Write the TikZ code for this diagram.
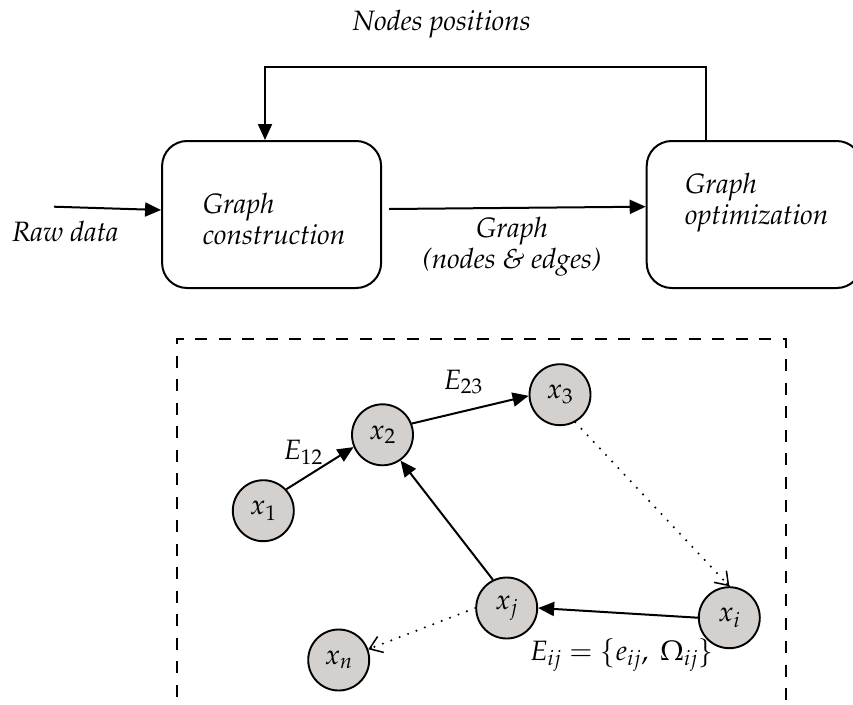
\documentclass[tikz,border=0pt]{standalone}
\usepackage[T1]{fontenc}
\usepackage{mathpazo}
\usetikzlibrary{arrows.meta,calc}
\definecolor{nodegray}{RGB}{212,208,206}
\begin{document}
\begin{tikzpicture}[x=1pt,y=-1pt,
  every node/.style={font=\fontsize{28}{31}\selectfont},
  lbl/.style={font=\fontsize{28}{31}\selectfont\itshape},
  box/.style={draw,rounded corners=25pt,line width=2pt,inner sep=0pt},
  vert/.style={circle,draw,fill=nodegray,line width=1.9pt,minimum size=61pt,inner sep=0pt},
  arr/.style={line width=2pt,-{Triangle[length=16pt,width=14pt]}},
  dotline/.style={line width=2.3pt,line cap=round,dash pattern=on 0pt off 9pt},
  barb/.style={line width=1.5pt,-{Straight Barb[length=12pt,width=17pt,line width=1.5pt]}},
  frame/.style={line width=2pt,dash pattern=on 12pt off 11.5pt}]
\useasboundingbox (0,0) rectangle (853,704);

% top flow
\node[box,minimum width=219pt,minimum height=147pt] (box1) at (271.6,214.5) {};
\node[box,minimum width=215pt,minimum height=147pt] (box2) at (754.2,214.5) {};
\node[lbl,align=left,anchor=west] (t1) at (199.3,219) {Graph\\construction};
\node[lbl,align=left,anchor=west] (t2) at (681.7,203) {Graph\\optimization};
\node[lbl,anchor=base] (raw) at (65.3,241.7) {Raw data};
\node[lbl,anchor=base] (np) at (441.7,30) {Nodes positions};
\node[lbl,align=center] (glabel) at (512,247) {Graph\\(nodes \& edges)};

\coordinate (rawS) at (54,206.7);
\coordinate (fbR) at (706,66.5);
\coordinate (fbL) at (265,66.5);
\draw[arr] (rawS) -- ([yshift=4.5pt]box1.west);
\draw[arr] ([xshift=7pt,yshift=5.5pt]box1.east) -- ([yshift=7.8pt]box2.west);
\draw[arr] (box2.north -| fbR) -- (fbR) -- (fbL) -- (box1.north -| fbL);

% graph frame
\draw[frame] (177,720) -- (177,338.5) -- (785.5,338.5) -- (785.5,720);

\node[vert] (x1) at (263.3,510.7) {$x_1$};
\node[vert] (x2) at (382.5,434.8) {$x_2$};
\node[vert] (x3) at (560,394.7) {$x_3$};
\node[vert] (xj) at (506.7,608) {$x_j$};
\node[vert] (xi) at (729.3,617.7) {$x_i$};
\node[vert] (xn) at (338.7,660) {$x_n$};

\draw[arr] (x1.43) -- (x2.-157);
\draw[arr] (x2.21) -- (x3.182);
\draw[arr] (xj.116) -- (x2.-55);
\draw[arr] (xi.west) -- (xj.east);
\draw[dotline] (x3.-61) -- (xi.north);
\draw[barb] ($(xi.north)!4pt!(x3.-61)$) -- (xi.north);
\draw[dotline] (xj.west) -- (xn.20);
\draw[barb] ($(xn.20)!4pt!(xj.west)$) -- (xn.20);

\node (e12) at (303,452) {$E_{12}$};
\node (e23) at (463,382) {$E_{23}$};
\node (eij) at (621.7,655) {$E_{ij}=\{e_{ij},\ \Omega_{ij}\}$};
\end{tikzpicture}
\end{document}
